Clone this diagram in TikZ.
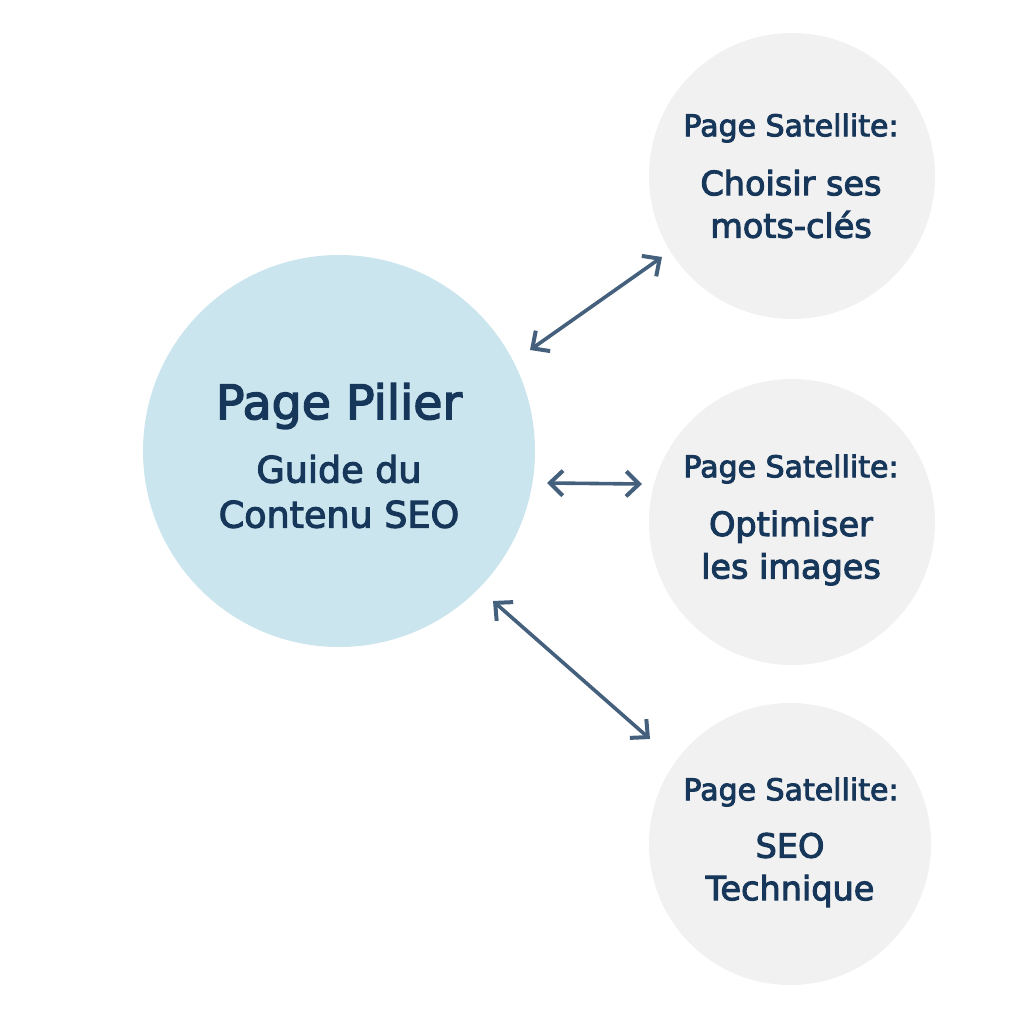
\documentclass[tikz,border=0pt]{standalone}
\usepackage{fontspec}
\usetikzlibrary{arrows.meta}
\setmainfont{DejaVu Sans}[FakeBold=3]
\definecolor{inktext}{HTML}{17375A}
\definecolor{arrowcol}{HTML}{44607C}
\definecolor{pilierfill}{HTML}{CBE5EF}
\definecolor{satfill}{HTML}{F1F1F1}
\tikzset{
  pilier/.style={circle,fill=pilierfill,minimum size=392pt,inner sep=0pt},
  satellite/.style={circle,fill=satfill,minimum size=286pt,inner sep=0pt},
  sattitle/.style={font=\fontsize{30}{34}\selectfont},
  satsub/.style={font=\fontsize{33.5}{42.5}\selectfont,align=center},
  linkarrow/.style={<->,>={Straight Barb[length=13pt,width=25pt,line width=4pt]},line width=3.6pt,arrowcol}
}
\begin{document}
\begin{tikzpicture}[x=1pt,y=-1pt,text=inktext]
\useasboundingbox (0,0) rectangle (1024,1024);

\node[pilier] (pilier) at (339,451) {};
\node[satellite] (satA) at (792,176) {};
\node[satellite] (satB) at (792,522) {};
\node[satellite,minimum size=282pt] (satC) at (790,844) {};

\node[font=\fontsize{47.5}{50}\selectfont] (pilierT) at (339,406) {Page Pilier};
\node[font=\fontsize{36.5}{45}\selectfont,align=center] (pilierS) at (339,491.5) {Guide du\\Contenu SEO};

\node[sattitle] (satAT) at (791,128) {Page Satellite:};
\node[satsub] (satAS) at (791,204) {Choisir ses\\mots-clés};
\node[sattitle] (satBT) at (791,469) {Page Satellite:};
\node[satsub] (satBS) at (791,548) {Optimiser\\les images};
\node[sattitle] (satCT) at (791,792) {Page Satellite:};
\node[satsub] (satCS) at (790,870) {SEO\\Technique};

\coordinate (a1) at (530,350);
\coordinate (a2) at (662,257);
\coordinate (b1) at (547,483);
\coordinate (b2) at (642,484);
\coordinate (c1) at (493,601);
\coordinate (c2) at (650,739);
\draw[linkarrow] (a1) -- (a2);
\draw[linkarrow] (b1) -- (b2);
\draw[linkarrow] (c1) -- (c2);
\end{tikzpicture}
\end{document}
